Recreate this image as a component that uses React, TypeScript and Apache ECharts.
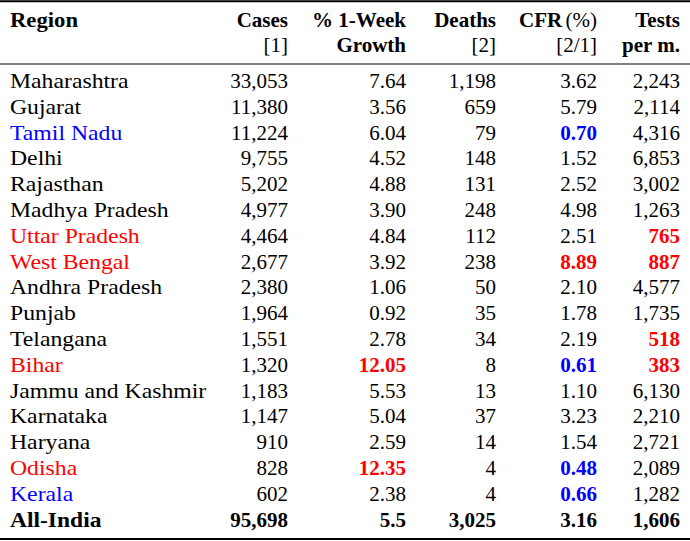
import React, { useEffect, useRef } from "react";
import * as echarts from "echarts";

const regions = [
  "Maharashtra", "Gujarat", "Tamil Nadu", "Delhi", "Rajasthan", "Madhya Pradesh",
  "Uttar Pradesh", "West Bengal", "Andhra Pradesh", "Punjab", "Telangana", "Bihar",
  "Jammu and Kashmir", "Karnataka", "Haryana", "Odisha", "Kerala",
];
const cases = [33053, 11380, 11224, 9755, 5202, 4977, 4464, 2677, 2380, 1964, 1551, 1320, 1183, 1147, 910, 828, 602];
const growth = [7.64, 3.56, 6.04, 4.52, 4.88, 3.90, 4.84, 3.92, 1.06, 0.92, 2.78, 12.05, 5.53, 5.04, 2.59, 12.35, 2.38];
const deaths = [1198, 659, 79, 148, 131, 248, 112, 238, 50, 35, 34, 8, 13, 37, 14, 4, 4];
const cfr = [3.62, 5.79, 0.70, 1.52, 2.52, 4.98, 2.51, 8.89, 2.10, 1.78, 2.19, 0.61, 1.10, 3.23, 1.54, 0.48, 0.66];
const tests = [2243, 2114, 4316, 6853, 3002, 1263, 765, 887, 4577, 1735, 518, 383, 6130, 2210, 2721, 2089, 1282];

// highlight flags: "" none, "r" red, "b" blue
const regionMark = ["", "", "b", "", "", "", "r", "r", "", "", "", "r", "", "", "", "r", "b"];
const growthMark = ["", "", "", "", "", "", "", "", "", "", "", "r", "", "", "", "r", ""];
const cfrMark = ["", "", "b", "", "", "", "", "r", "", "", "", "b", "", "", "", "b", "b"];
const testsMark = ["", "", "", "", "", "", "r", "r", "", "", "r", "r", "", "", "", "", ""];

const totalLabel = "All-India";
const totalCases = 95698;
const totalGrowth = "5.5";
const totalDeaths = 3025;
const totalCfr = 3.16;
const totalTests = 1606;

const headerTop = ["Region", "Cases", "% 1-Week", "Deaths", "CFR", "Tests"];
const headerBottom = ["", "[1]", "Growth", "[2]", "[2/1]", "per m."];

const FONT = "'Liberation Serif', 'Times New Roman', serif";
const FS = 21;

const fmtInt = (v: number) => v.toLocaleString("en-US");
const colorOf = (m: string) => (m === "r" ? "#ff0000" : m === "b" ? "#0000ff" : "#000000");

export default function App() {
  const ref = useRef<HTMLDivElement>(null);
  useEffect(() => {
    document.body.style.margin = "0";
    const chart = echarts.init(ref.current!, null, { renderer: "svg" });

    const colRight = [0, 288, 406, 496, 597, 680];
    const regionX = 10;
    const rowY0 = 81;
    const rowH = 25.8;
    const els: any[] = [];

    const txt = (text: string, x: number, y: number, align: string, color = "#000", bold = false, sx = 1) => {
      els.push({
        type: "text",
        x,
        y,
        scaleX: sx,
        style: {
          text,
          fill: color,
          font: `${bold ? "bold " : ""}${FS}px ${FONT}`,
          textAlign: align,
          textVerticalAlign: "middle",
        },
      });
    };

    // rules
    const rule = (y: number, w: number) =>
      els.push({ type: "line", shape: { x1: 0, y1: y, x2: 690, y2: y }, style: { stroke: "#000", lineWidth: w } });
    rule(1.2, 2);
    rule(64, 1.2);
    rule(539, 2);

    // header
    const hy1 = 20;
    const hy2 = 45;
    txt(headerTop[0], regionX, hy1, "left", "#000", true, 1.08);
    txt(headerTop[1], colRight[1], hy1, "right", "#000", true);
    txt(headerTop[2], colRight[2], hy1, "right", "#000", true);
    txt(headerTop[3], colRight[3], hy1, "right", "#000", true);
    els.push({
      type: "text",
      x: colRight[4],
      y: hy1,
      style: {
        text: `{b|${headerTop[4]}} {r|(%)}`,
        textAlign: "right",
        textVerticalAlign: "middle",
        rich: {
          b: { font: `bold ${FS}px ${FONT}`, fill: "#000" },
          r: { font: `${FS}px ${FONT}`, fill: "#000" },
        },
      },
    });
    txt(headerTop[5], colRight[5], hy1, "right", "#000", true);
    txt(headerBottom[1], colRight[1], hy2, "right");
    txt(headerBottom[2], colRight[2], hy2, "right", "#000", true);
    txt(headerBottom[3], colRight[3], hy2, "right");
    txt(headerBottom[4], colRight[4], hy2, "right");
    txt(headerBottom[5], colRight[5], hy2, "right", "#000", true);

    regions.forEach((r, i) => {
      const y = rowY0 + i * rowH;
      txt(r, regionX, y, "left", colorOf(regionMark[i]), false, 1.13);
      txt(fmtInt(cases[i]), colRight[1], y, "right");
      txt(growth[i].toFixed(2), colRight[2], y, "right", colorOf(growthMark[i]), growthMark[i] !== "");
      txt(fmtInt(deaths[i]), colRight[3], y, "right");
      txt(cfr[i].toFixed(2), colRight[4], y, "right", colorOf(cfrMark[i]), cfrMark[i] !== "");
      txt(fmtInt(tests[i]), colRight[5], y, "right", colorOf(testsMark[i]), testsMark[i] !== "");
    });
    const ty = rowY0 + regions.length * rowH;
    txt(totalLabel, regionX, ty, "left", "#000", true, 1.12);
    txt(fmtInt(totalCases), colRight[1], ty, "right", "#000", true);
    txt(totalGrowth, colRight[2], ty, "right", "#000", true);
    txt(fmtInt(totalDeaths), colRight[3], ty, "right", "#000", true);
    txt(totalCfr.toFixed(2), colRight[4], ty, "right", "#000", true);
    txt(fmtInt(totalTests), colRight[5], ty, "right", "#000", true);

    chart.setOption({ animation: false, graphic: els });
    return () => chart.dispose();
  }, []);
  return <div ref={ref} style={{ width: 690, height: 541, background: "#fff" }} />;
}
